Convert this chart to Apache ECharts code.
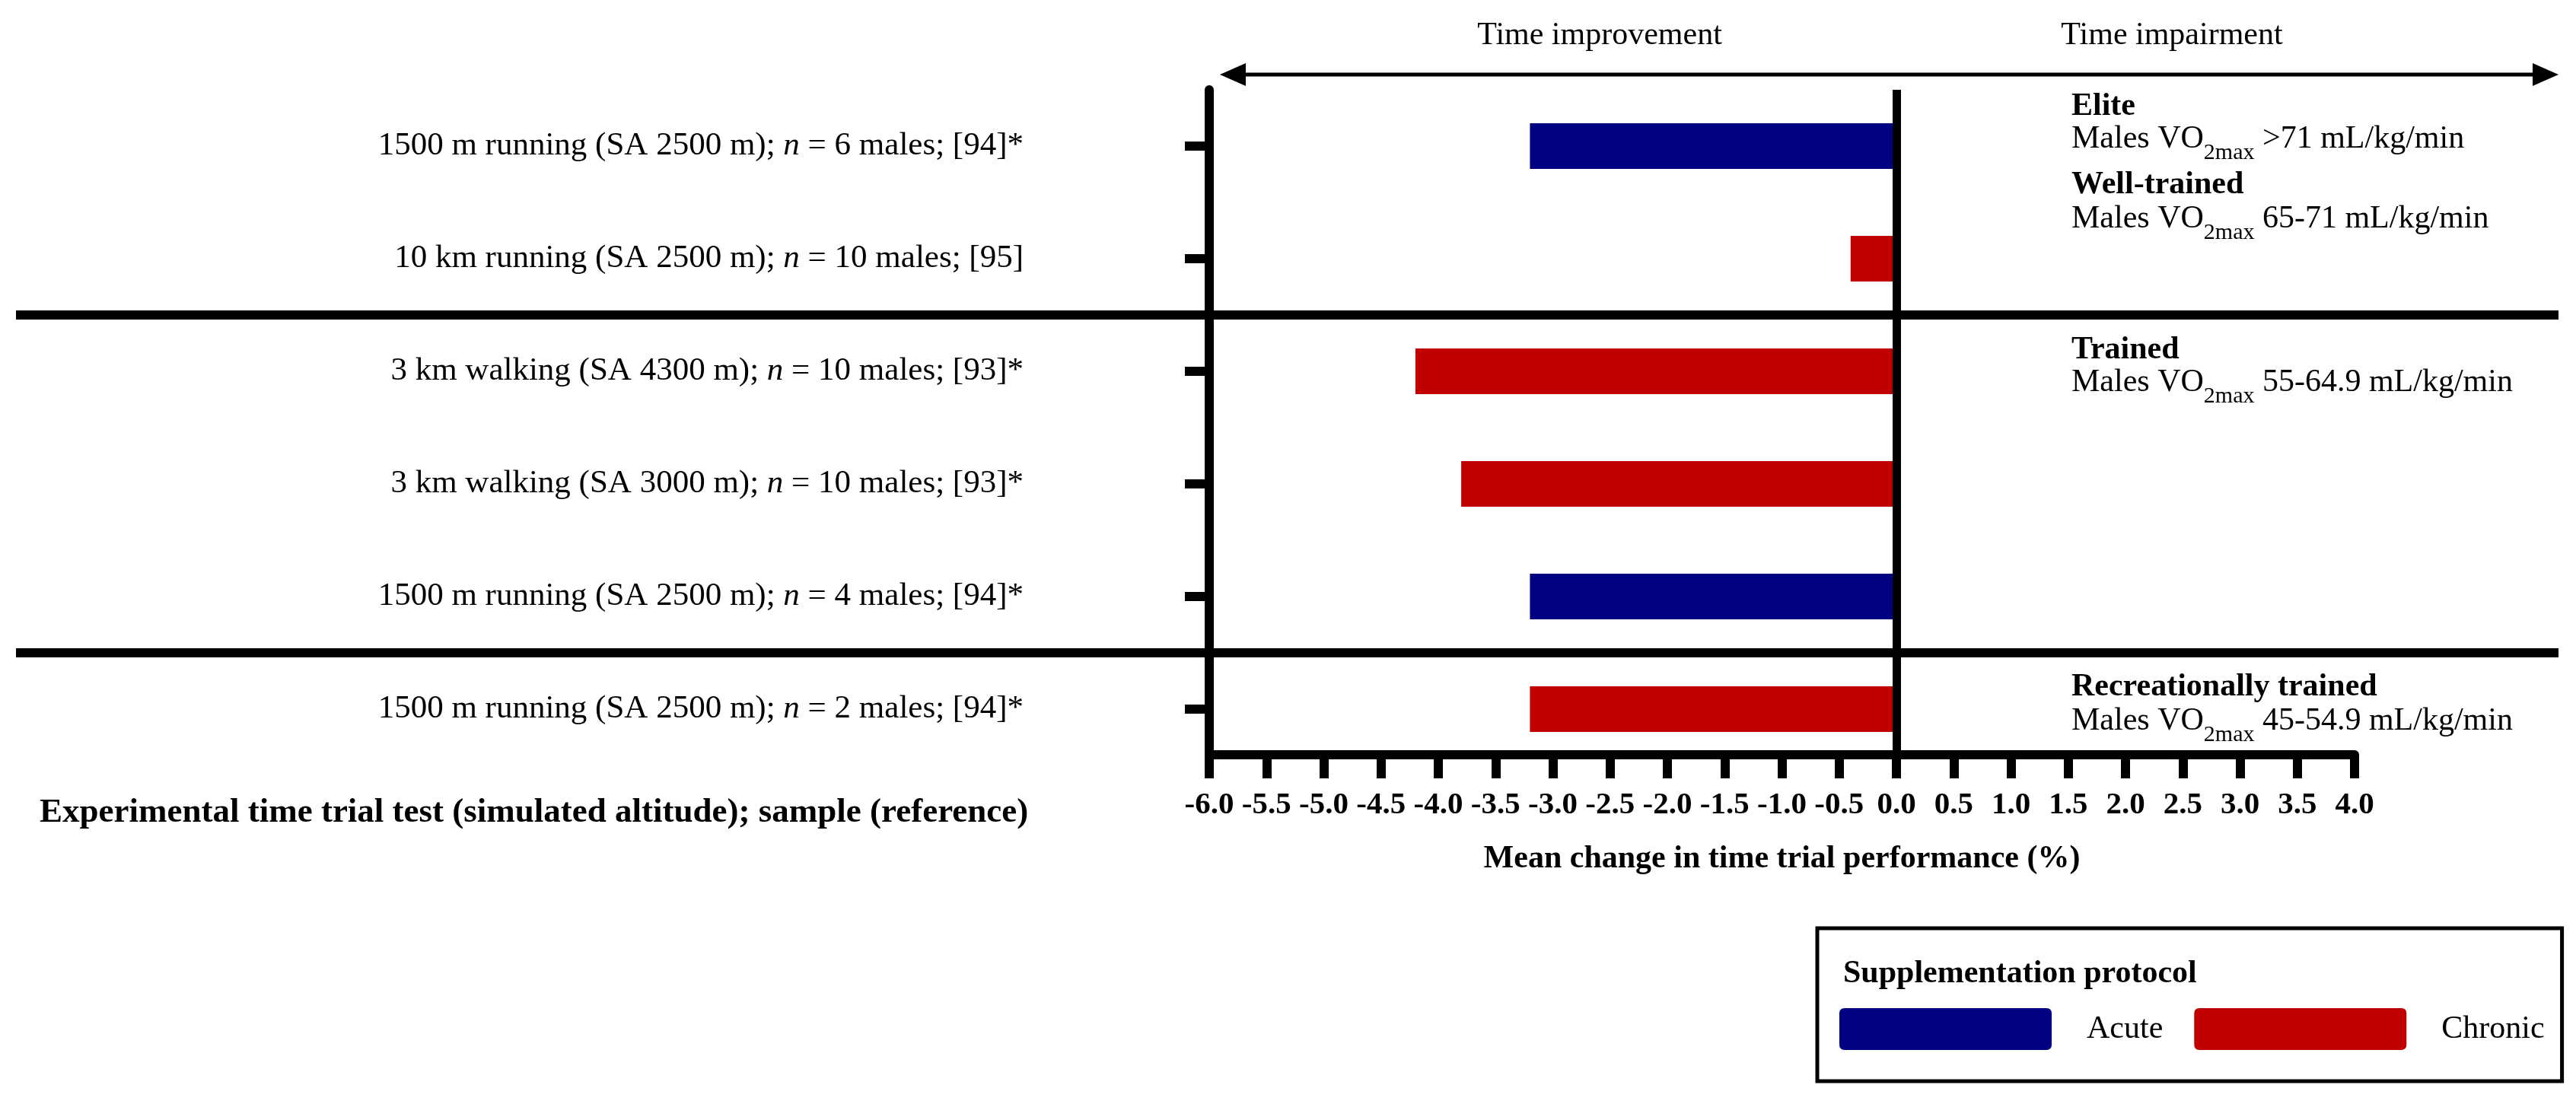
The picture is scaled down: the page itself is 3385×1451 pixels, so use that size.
<!DOCTYPE html>
<html>
<head>
<meta charset="utf-8">
<title>Time trial performance</title>
<script src="https://cdn.jsdelivr.net/npm/echarts@6/dist/echarts.min.js"></script>
<style>
  html, body { margin: 0; padding: 0; background: #fff; }
  #chart { width: 100vw; height: 100vh; }
</style>
</head>
<body>
<div id="chart"></div>
<script>
// data
var studies = [
  '1500 m running (SA 2500 m); n = 6 males; [94]*',
  '10 km running (SA 2500 m); n = 10 males; [95]',
  '3 km walking (SA 4300 m); n = 10 males; [93]*',
  '3 km walking (SA 3000 m); n = 10 males; [93]*',
  '1500 m running (SA 2500 m); n = 4 males; [94]*',
  '1500 m running (SA 2500 m); n = 2 males; [94]*'
];
var protocol = ['Acute', 'Chronic', 'Chronic', 'Chronic', 'Acute', 'Chronic'];
var meanChange = [-3.2, -0.4, -4.2, -3.8, -3.2, -3.2];
var protocols = ['Acute', 'Chronic'];
var xMin = -6, xMax = 4, xStep = 0.5;
var groupAfter = [1, 4]; // separator drawn below these rows
var groupTitles = ['Elite', 'Well-trained', 'Trained', 'Recreationally trained'];
var groupRanges = ['>71', '65-71', '55-64.9', '45-54.9'];

var SERIF = "'Liberation Serif', 'Times New Roman', serif";
var colors = { Acute: '#000080', Chronic: '#c00000' };

function seriesData(name) {
  return meanChange.map(function(v, i) { return protocol[i] === name ? v : '-'; });
}

var chart = echarts.init(document.getElementById('chart'));

var series = protocols.map(function(name, k) {
  var s = {
    name: name,
    type: 'bar',
    stack: 'all',
    barWidth: 60,
    itemStyle: { color: colors[name] },
    data: seriesData(name)
  };
  if (k === 0) {
    s.markLine = {
      silent: true,
      symbol: ['none', 'none'],
      label: { show: false },
      lineStyle: { color: '#000', width: 11, type: 'solid' },
      data: [{ xAxis: 0 }]
    };
  }
  return s;
});

chart.setOption({
  animation: false,
  backgroundColor: '#fff',
  textStyle: { fontFamily: SERIF, color: '#000' },
  grid: { left: 1589, top: 118, width: 1505, height: 888, outerBoundsMode: 'none' },
  legend: {
    data: protocols,
    left: 2388,
    top: 1220,
    orient: 'horizontal',
    selectedMode: false,
    icon: 'path://M7,0H272Q279,0 279,7V48Q279,55 272,55H7Q0,55 0,48V7Q0,0 7,0Z',
    itemWidth: 279,
    itemHeight: 55,
    itemGap: 41,
    padding: [105, 23, 41, 29],
    borderColor: '#000',
    borderWidth: 5,
    textStyle: { fontFamily: SERIF, fontSize: 42, color: '#000', padding: [0, 0, 0, 41] }
  },
  xAxis: {
    type: 'value',
    min: xMin,
    max: xMax,
    interval: xStep,
    offset: -14,
    splitLine: { show: false },
    axisLine: { show: true, lineStyle: { color: '#000', width: 12 } },
    axisTick: { show: true, length: 31, lineStyle: { color: '#000', width: 12 } },
    axisLabel: {
      margin: 46,
      fontFamily: SERIF,
      fontSize: 41,
      fontWeight: 'bold',
      color: '#000',
      formatter: function(v) { return v.toFixed(1); }
    },
    name: 'Mean change in time trial performance (%)',
    nameLocation: 'middle',
    nameGap: 116,
    nameTextStyle: { fontFamily: SERIF, fontSize: 42, fontWeight: 'bold', color: '#000' }
  },
  yAxis: {
    type: 'category',
    inverse: true,
    data: studies,
    axisLine: { show: true, onZero: false, lineStyle: { color: '#000', width: 12 } },
    axisTick: { show: true, alignWithLabel: true, length: 32, lineStyle: { color: '#000', width: 12 } },
    axisLabel: {
      margin: 244,
      formatter: function(v) {
        var p = v.split(' n = ');
        return '{t|' + p[0] + ' }{i|n}{t| = ' + p[1] + '}';
      },
      rich: {
        t: { fontFamily: SERIF, fontSize: 43, color: '#000' },
        i: { fontFamily: SERIF, fontSize: 43, fontStyle: 'italic', color: '#000' }
      }
    }
  },
  series: series
});

// annotations drawn around the plot
var rowY = studies.map(function(s) { return chart.convertToPixel({ yAxisIndex: 0 }, s); });
var graphics = [];

groupAfter.forEach(function(i) {
  var y = (rowY[i] + rowY[i + 1]) / 2;
  graphics.push({
    type: 'line', silent: true,
    shape: { x1: 21, y1: y, x2: 3362, y2: y },
    style: { stroke: '#000', lineWidth: 12 }
  });
});

// double-headed arrow on top
graphics.push(
  { type: 'line', shape: { x1: 1625, y1: 98, x2: 3340, y2: 98 }, style: { stroke: '#000', lineWidth: 5 } },
  { type: 'polygon', shape: { points: [[1603, 98], [1637, 83], [1637, 113]] }, style: { fill: '#000' } },
  { type: 'polygon', shape: { points: [[3362, 98], [3328, 83], [3328, 113]] }, style: { fill: '#000' } },
  { type: 'text', x: 2102, y: 47, style: { text: 'Time improvement', font: '42px ' + SERIF, fill: '#000', textAlign: 'center', textVerticalAlign: 'middle' } },
  { type: 'text', x: 2854, y: 47, style: { text: 'Time impairment', font: '42px ' + SERIF, fill: '#000', textAlign: 'center', textVerticalAlign: 'middle' } }
);

// group headings on the right
var titleY = [140, 243, 460, 903];
var rangeY = [183, 288, 503, 948];
var richVO = {
  m: { fontFamily: SERIF, fontSize: 42, lineHeight: 46, fill: '#000' },
  s: { fontFamily: SERIF, fontSize: 30, lineHeight: 32, fill: '#000', verticalAlign: 'top', padding: [26, 0, 0, 0] }
};
groupTitles.forEach(function(t, i) {
  graphics.push({
    type: 'text', x: 2722, y: titleY[i],
    style: { text: t, font: 'bold 42px ' + SERIF, fill: '#000', textVerticalAlign: 'middle' }
  });
  graphics.push({
    type: 'text', x: 2722, y: rangeY[i],
    style: {
      text: '{m|Males VO}{s|2max}{m| ' + groupRanges[i] + ' mL/kg/min}',
      rich: richVO,
      textVerticalAlign: 'middle'
    }
  });
});

// left caption and legend title
graphics.push(
  { type: 'text', x: 52, y: 1068, style: { text: 'Experimental time trial test (simulated altitude); sample (reference)', font: 'bold 45px ' + SERIF, fill: '#000', textVerticalAlign: 'middle' } },
  { type: 'text', x: 2422, y: 1280, style: { text: 'Supplementation protocol', font: 'bold 42px ' + SERIF, fill: '#000', textVerticalAlign: 'middle' } }
);

chart.setOption({ graphic: graphics });
window.addEventListener('resize', function() { chart.resize(); });
</script>
</body>
</html>
